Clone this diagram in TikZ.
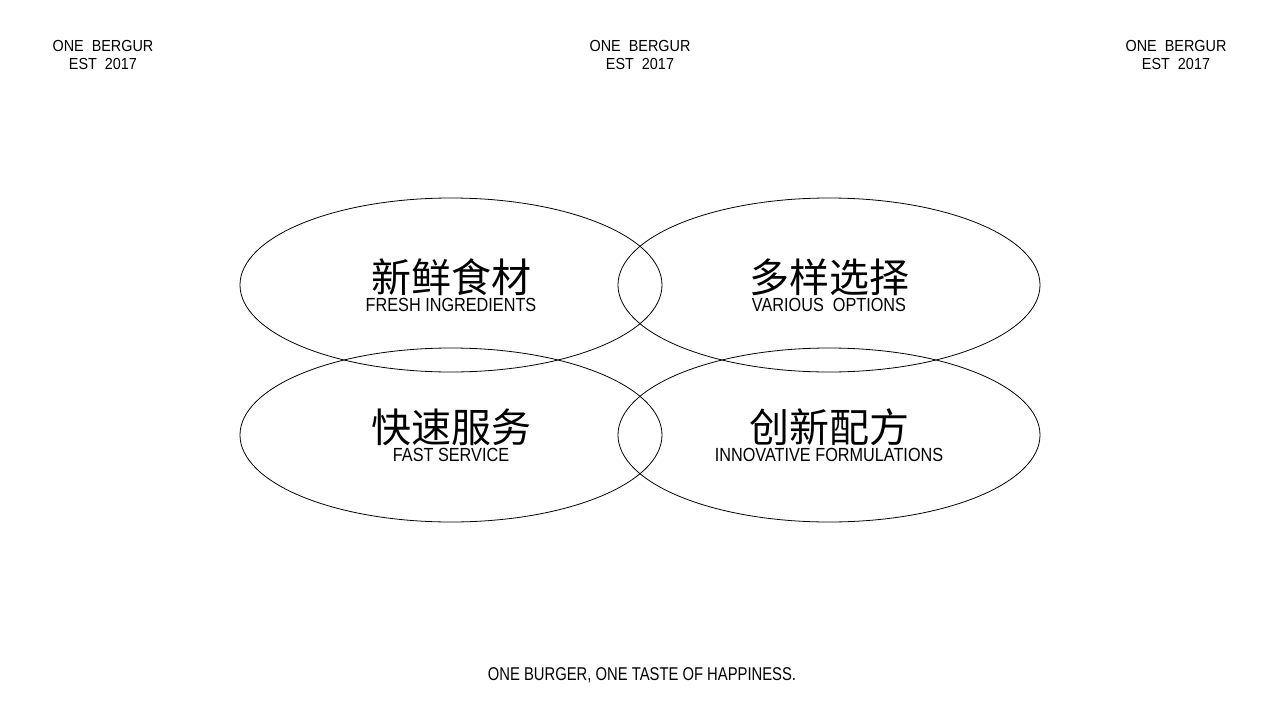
\documentclass[tikz,border=0pt]{standalone}
\usepackage{fontspec}
\setmainfont{Liberation Sans}
\newfontfamily\narrow[FakeStretch=0.855]{Liberation Sans}
\newfontfamily\slog[FakeStretch=0.8]{Liberation Sans}
\newfontfamily\hdr[FakeStretch=0.9]{Liberation Sans}
\newfontfamily\cjk{Noto Sans CJK SC}
\begin{document}
\begin{tikzpicture}[x=1pt,y=-1pt,
  petal/.style={draw=black,line width=0.8pt},
  zh/.style={font=\cjk\fontsize{40}{42}\selectfont,inner sep=0pt},
  en/.style={font=\narrow\fontsize{19}{21}\selectfont,inner sep=0pt},
  brand/.style={font=\hdr\fontsize{16}{18}\selectfont,align=center,inner sep=0pt},
  slogan/.style={font=\slog\fontsize{18.5}{20}\selectfont,inner sep=0pt}]
\useasboundingbox (0,0) rectangle (1280,720);
\fill[white] (0,0) rectangle (1280,720);
% brand marks
\node[brand] (b1) at (103,55) {ONE\ \ BERGUR\\EST\ \ 2017};
\node[brand] (b2) at (640,55) {ONE\ \ BERGUR\\EST\ \ 2017};
\node[brand] (b3) at (1176,55) {ONE\ \ BERGUR\\EST\ \ 2017};
% ellipses
\draw[petal] (451,285) ellipse [x radius=211, y radius=87];
\draw[petal] (829,285) ellipse [x radius=211, y radius=87];
\draw[petal] (451,435) ellipse [x radius=211, y radius=87];
\draw[petal] (829,435) ellipse [x radius=211, y radius=87];
% labels
\node[zh] (z1) at (451,277) {新鲜食材};
\node[en] (e1) at (451,305) {FRESH INGREDIENTS};
\node[zh] (z2) at (829,277) {多样选择};
\node[en] (e2) at (829,305) {VARIOUS\ \ OPTIONS};
\node[zh] (z3) at (451,427) {快速服务};
\node[en] (e3) at (451,455) {FAST SERVICE};
\node[zh] (z4) at (829,427) {创新配方};
\node[en] (e4) at (829,455) {INNOVATIVE FORMULATIONS};
% slogan
\node[slogan] (s) at (642,675) {ONE BURGER, ONE TASTE OF HAPPINESS.};
\end{tikzpicture}
\end{document}
